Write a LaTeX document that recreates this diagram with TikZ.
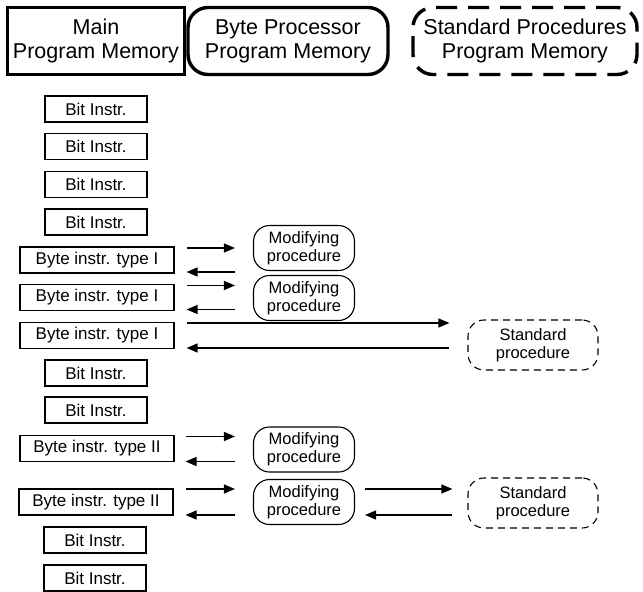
\documentclass[tikz,border=0pt]{standalone}
\usepackage{fontspec}
\setmainfont{Liberation Sans}
\usetikzlibrary{arrows.meta}
\begin{document}
\begin{tikzpicture}[x=1pt,y=-1pt,
  hdr/.style={draw,line width=3.4pt,minimum width=#1,minimum height=67pt,inner sep=0pt,
    align=center,font=\fontsize{21.5}{24}\selectfont},
  bitbox/.style={draw,line width=1.1pt,minimum width=102pt,minimum height=26pt,inner sep=0pt,
    font=\fontsize{17}{18}\selectfont},
  bytebox/.style={bitbox,minimum width=154pt},
  modproc/.style={draw,line width=1.1pt,rounded corners=16pt,minimum width=101pt,minimum height=45pt,
    inner sep=0pt,align=center,font=\fontsize{16.5}{18}\selectfont},
  stdproc/.style={modproc,dash pattern=on 7pt off 5pt,minimum width=130pt,minimum height=50pt},
  flow/.style={line width=1.3pt,-{Triangle[length=11pt,width=9pt]}}
]
\useasboundingbox (0,0) rectangle (643,592);

% column headers
\node[hdr=177pt] (mainmem) at (96,41) {Main\\Program Memory};
\node[hdr=200pt,rounded corners=20pt] (bytemem) at (288,41) {Byte Processor\\Program Memory};
\node[hdr=224pt,rounded corners=20pt,dash pattern=on 21pt off 11pt] (stdmem) at (525,41) {Standard Procedures\\Program Memory};

% main program memory
\node[bitbox] (bit1) at (96,109) {Bit Instr.};
\node[bitbox] (bit2) at (96,146.5) {Bit Instr.};
\node[bitbox] (bit3) at (96,184.5) {Bit Instr.};
\node[bitbox] (bit4) at (96,222) {Bit Instr.};
\node[bytebox] (byteA) at (97,260) {Byte instr. type I};
\node[bytebox] (byteB) at (97,297.5) {Byte instr. type I};
\node[bytebox] (byteC) at (97,335.5) {Byte instr. type I};
\node[bitbox] (bit5) at (96,373) {Bit Instr.};
\node[bitbox] (bit6) at (96,410) {Bit Instr.};
\node[bytebox] (byteD) at (97,448.5) {Byte instr. type II};
\node[bytebox] (byteE) at (96,502) {Byte instr. type II};
\node[bitbox] (bit7) at (95,540) {Bit Instr.};
\node[bitbox] (bit8) at (95,578) {Bit Instr.};

% byte processor procedures
\node[modproc] (modA) at (304,248) {Modifying\\procedure};
\node[modproc] (modB) at (304,298) {Modifying\\procedure};
\node[modproc] (modD) at (304,449.5) {Modifying\\procedure};
\node[modproc] (modE) at (304,502) {Modifying\\procedure};

% standard procedures
\node[stdproc] (stdC) at (533,345) {Standard\\procedure};
\node[stdproc] (stdE) at (533,503) {Standard\\procedure};

% calls and returns
\draw[flow,shorten <=12pt,shorten >=18pt] ([yshift=12pt]byteA.east) -- ([yshift=12pt]byteA.east -| modA.west);
\draw[flow,shorten <=18pt,shorten >=12pt] ([yshift=-12pt]byteA.east -| modA.west) -- ([yshift=-12pt]byteA.east);
\draw[flow,shorten <=12pt,shorten >=18pt] ([yshift=12pt]byteB.east) -- ([yshift=12pt]byteB.east -| modB.west);
\draw[flow,shorten <=18pt,shorten >=12pt] ([yshift=-12pt]byteB.east -| modB.west) -- ([yshift=-12pt]byteB.east);
\draw[flow,shorten <=12pt,shorten >=18pt] ([yshift=12.5pt]byteC.east) -- ([yshift=12.5pt]byteC.east -| stdC.west);
\draw[flow,shorten <=18pt,shorten >=12pt] ([yshift=-12.5pt]byteC.east -| stdC.west) -- ([yshift=-12.5pt]byteC.east);
\draw[flow,shorten <=11pt,shorten >=18pt] ([yshift=12pt]byteD.east) -- ([yshift=12pt]byteD.east -| modD.west);
\draw[flow,shorten <=18pt,shorten >=11pt] ([yshift=-13pt]byteD.east -| modD.west) -- ([yshift=-13pt]byteD.east);
\draw[flow,shorten <=12pt,shorten >=18pt] ([yshift=13pt]byteE.east) -- ([yshift=13pt]byteE.east -| modE.west);
\draw[flow,shorten <=18pt,shorten >=12pt] ([yshift=-13pt]byteE.east -| modE.west) -- ([yshift=-13pt]byteE.east);
\draw[flow,shorten <=10pt,shorten >=15pt] ([yshift=13pt]modE.east) -- ([yshift=13pt]modE.east -| stdE.west);
\draw[flow,shorten <=15pt,shorten >=10pt] ([yshift=-13pt]modE.east -| stdE.west) -- ([yshift=-13pt]modE.east);
\end{tikzpicture}
\end{document}
